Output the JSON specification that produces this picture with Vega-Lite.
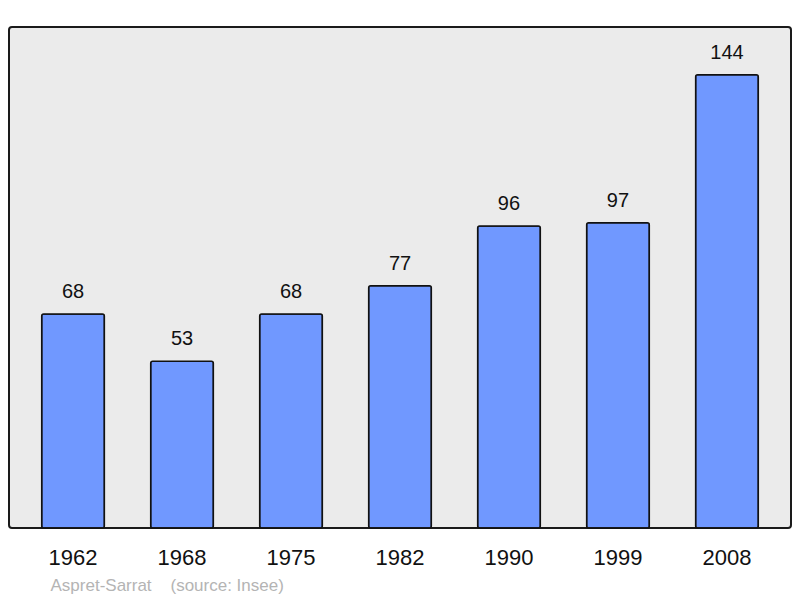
{
  "$schema": "https://vega.github.io/schema/vega-lite/v6.json",
  "autosize": {"type": "none"},
  "width": 782,
  "height": 501,
  "padding": {"left": 9, "top": 27, "right": 9, "bottom": 70},
  "background": "white",
  "config": {
    "font": "Liberation Sans",
    "view": {"fill": "#ebebeb", "stroke": "#1a1a1a", "strokeWidth": 2, "cornerRadius": 3}
  },
  "data": {
    "values": [
      {"year": "1962", "pop": 68},
      {"year": "1968", "pop": 53},
      {"year": "1975", "pop": 68},
      {"year": "1982", "pop": 77},
      {"year": "1990", "pop": 96},
      {"year": "1999", "pop": 97},
      {"year": "2008", "pop": 144}
    ]
  },
  "encoding": {
    "x": {
      "field": "year",
      "type": "ordinal",
      "scale": {"paddingInner": 0.425, "paddingOuter": 0.3},
      "axis": {
        "title": "Aspret-Sarrat\u00a0\u00a0\u00a0\u00a0(source: Insee)",
        "titleX": 41,
        "titleY": 62,
        "titleAlign": "left",
        "titleAnchor": null,
        "titleBaseline": "alphabetic",
        "titleFont": "Liberation Sans",
        "titleFontSize": 17,
        "titleFontWeight": "normal",
        "titleColor": "#b4b4b4",
        "labelAngle": 0,
        "labelFontSize": 22,
        "labelColor": "#111111",
        "labelBaseline": "alphabetic",
        "labelPadding": 36,
        "ticks": false,
        "tickSize": 0,
        "domain": false
      }
    },
    "y": {
      "field": "pop",
      "type": "quantitative",
      "scale": {"domain": [0, 159.2], "nice": false, "zero": true},
      "axis": null
    }
  },
  "layer": [
    {
      "mark": {"type": "bar", "fill": "#7098ff", "stroke": "#111111", "strokeWidth": 1.5, "cornerRadius": 2}
    },
    {
      "mark": {"type": "text", "baseline": "alphabetic", "dy": -16, "fontSize": 20, "color": "#111111"},
      "encoding": {"text": {"field": "pop", "type": "quantitative"}}
    }
  ]
}
